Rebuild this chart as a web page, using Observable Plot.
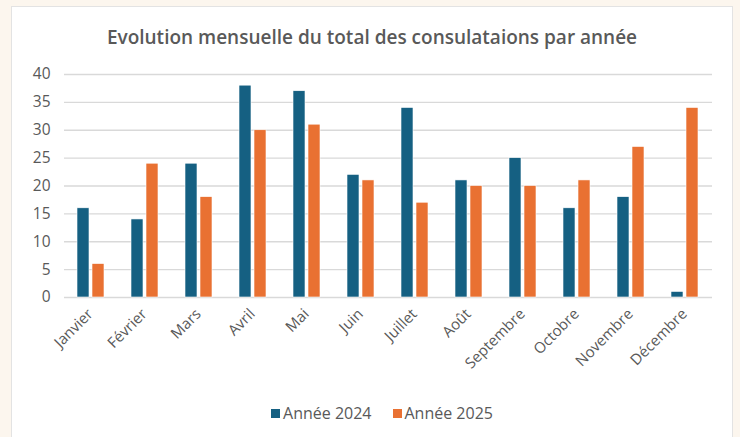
<!DOCTYPE html>
<html><head><meta charset="utf-8">
<script src="https://cdn.jsdelivr.net/npm/d3@7"></script>
<script src="https://cdn.jsdelivr.net/npm/@observablehq/plot@0.6"></script>
<style>
html,body{margin:0;padding:0;background:#fcf6ee;width:740px;height:437px;overflow:hidden;font-family:"Open Sans","Noto Sans",sans-serif;}
#panel{position:absolute;left:11px;top:6px;width:722px;height:440px;background:#fff;border:1px solid #e3e3e3;box-sizing:border-box;}
#title{position:absolute;left:0;top:17px;width:100%;text-align:center;font-size:19px;font-weight:600;color:#595959;line-height:26px;}
#chart{position:absolute;left:0;top:51px;}
#legend{position:absolute;left:10px;top:395px;width:100%;display:flex;justify-content:center;gap:21px;font-size:16px;color:#595959;line-height:22px;}
#legend .it{display:flex;align-items:center;}
#legend span.sw{display:inline-block;width:9px;height:9px;margin-right:3px;}
</style></head>
<body>
<div id="panel">
  <div id="title">Evolution mensuelle du total des consulataions par année</div>
  <div id="chart"></div>
  <div id="legend"></div>
</div>
<script>
const months = ["Janvier","Février","Mars","Avril","Mai","Juin","Juillet","Août","Septembre","Octobre","Novembre","Décembre"];
const series = ["Année 2024","Année 2025"];
const values2024 = [16,14,24,38,37,22,34,21,25,16,18,1];
const values2025 = [6,24,18,30,31,21,17,20,20,21,27,34];
const colors = ["#156082","#E97132"];
const yTicks = [0,5,10,15,20,25,30,35,40];

const data = [];
months.forEach((m,i)=>{
  data.push({month:m, serie:series[0], value:values2024[i]});
  data.push({month:m, serie:series[1], value:values2025[i]});
});

const plot = Plot.plot({
  width: 720,
  height: 321,
  marginLeft: 50,
  marginRight: 18,
  marginTop: 16,
  marginBottom: 82,
  style: {fontFamily: '"Open Sans","Noto Sans",sans-serif', color: "#595959", background: "transparent"},
  fx: {domain: months, padding: 0, label: null},
  x: {domain: series, paddingInner: 0.19, paddingOuter: 0.8, axis: null},
  y: {domain: [0,40], label: null},
  color: {domain: series, range: colors},
  marks: [
    Plot.ruleY(yTicks, {stroke: "#d9d9d9", strokeWidth: 1.3}),
    Plot.barY(data, {fx: "month", x: "serie", y: "value", fill: "serie", stroke: "#fff", strokeWidth: 0.6}),
    Plot.axisY(yTicks, {tickSize: 0, tickPadding: 14, fontSize: 15.5, fill: "#595959"}),
    Plot.axisFx({anchor: "bottom", tickRotate: -45, tickSize: 0, tickPadding: 8, dx: -1, dy: 6, fontSize: 15, fill: "#595959", label: null})
  ]
});
document.getElementById("chart").appendChild(plot);

const leg = document.getElementById("legend");
series.forEach((s,i)=>{
  const d = document.createElement("div");
  d.className = "it";
  d.innerHTML = `<span class="sw" style="background:${colors[i]}"></span>${s}`;
  leg.appendChild(d);
});
</script>
</body></html>
